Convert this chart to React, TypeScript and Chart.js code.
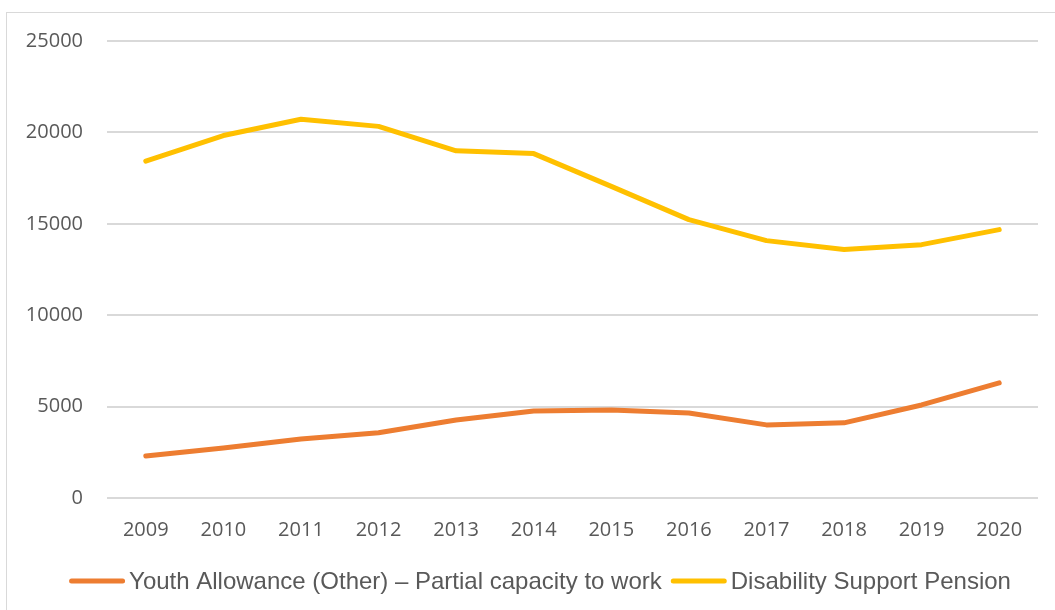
import React, { useEffect, useRef } from "react";
import { Chart, registerables } from "chart.js";

Chart.register(...registerables);

const years = ["2009", "2010", "2011", "2012", "2013", "2014", "2015", "2016", "2017", "2018", "2019", "2020"];
const youthAllowance = [2300, 2740, 3230, 3570, 4270, 4760, 4820, 4650, 4000, 4110, 5090, 6300];
const disabilityPension = [18430, 19830, 20720, 20330, 18990, 18840, 17050, 15230, 14080, 13600, 13860, 14680];
const seriesLabels = ["Youth Allowance (Other) \u2013 Partial capacity to work", "Disability Support Pension"];
const seriesColors = ["#ED7D31", "#FFC000"];
const yTicks = [0, 5000, 10000, 15000, 20000, 25000];

const legendPlugin = {
  id: "customLegend",
  afterDraw(chart: any) {
    const ctx = chart.ctx;
    const font = '24px "Liberation Sans", Arial, sans-serif';
    ctx.save();
    ctx.font = font;
    const lineLen = 56;
    const gap = 4;
    const itemGap = 9;
    const items = chart.data.datasets.map((d: any) => ({
      label: d.label,
      color: d.borderColor,
      w: lineLen + gap + ctx.measureText(d.label).width,
    }));
    const total = items.reduce((s: number, it: any) => s + it.w, 0) + itemGap * (items.length - 1);
    let x = 540 - total / 2;
    const y = 581;
    for (const it of items) {
      ctx.strokeStyle = it.color;
      ctx.lineWidth = 5;
      ctx.lineCap = "round";
      ctx.beginPath();
      ctx.moveTo(x + 2.5, y);
      ctx.lineTo(x + lineLen - 2.5, y);
      ctx.stroke();
      ctx.fillStyle = "#595959";
      ctx.textBaseline = "middle";
      ctx.textAlign = "left";
      ctx.fillText(it.label, x + lineLen + gap, y + 1);
      x += it.w + itemGap;
    }
    ctx.restore();
  },
};

export default function App() {
  const ref = useRef<HTMLCanvasElement>(null);
  useEffect(() => {
    if (!ref.current) return;
    const chart = new Chart(ref.current, {
      type: "line",
      data: {
        labels: years,
        datasets: [
          {
            label: seriesLabels[0],
            data: youthAllowance,
            borderColor: seriesColors[0],
            backgroundColor: seriesColors[0],
            borderWidth: 5,
            pointRadius: 0,
            borderCapStyle: "round",
            borderJoinStyle: "round",
            tension: 0,
          },
          {
            label: seriesLabels[1],
            data: disabilityPension,
            borderColor: seriesColors[1],
            backgroundColor: seriesColors[1],
            borderWidth: 5,
            pointRadius: 0,
            borderCapStyle: "round",
            borderJoinStyle: "round",
            tension: 0,
          },
        ],
      },
      options: {
        animation: false,
        responsive: false,
        maintainAspectRatio: false,
        layout: { padding: { left: 0, right: 17, top: 41, bottom: 0 } },
        plugins: { legend: { display: false }, tooltip: { enabled: false } },
        scales: {
          x: {
            offset: true,
            grid: { display: false, drawTicks: false },
            border: { display: false },
            ticks: {
              color: "#595959",
              font: { family: '"Open Sans", sans-serif', size: 20 },
              padding: 20,
              maxRotation: 0,
            },
            afterFit(scale: any) {
              scale.height = 112;
            },
          },
          y: {
            min: 0,
            max: 25000,
            afterBuildTicks(scale: any) {
              scale.ticks = yTicks.map((v) => ({ value: v }));
            },
            grid: { color: "#D9D9D9", lineWidth: 2, drawTicks: false },
            border: { display: false },
            ticks: {
              color: "#595959",
              font: { family: '"Open Sans", sans-serif', size: 20 },
              padding: 24,
              callback: (v: any) => String(v),
            },
            afterFit(scale: any) {
              scale.width = 107;
            },
          },
        },
      },
      plugins: [legendPlugin],
    });
    return () => chart.destroy();
  }, []);

  return (
    <div
      style={{
        position: "fixed",
        left: 0,
        top: 0,
        width: 1055,
        height: 610,
        overflow: "hidden",
        background: "#fff",
      }}
    >
      <div
        style={{
          position: "absolute",
          left: 6,
          top: 12,
          width: 1200,
          height: 800,
          border: "1px solid #D9D9D9",
        }}
      />
      <canvas ref={ref} width={1055} height={610} style={{ position: "absolute", left: 0, top: 0 }} />
    </div>
  );
}
